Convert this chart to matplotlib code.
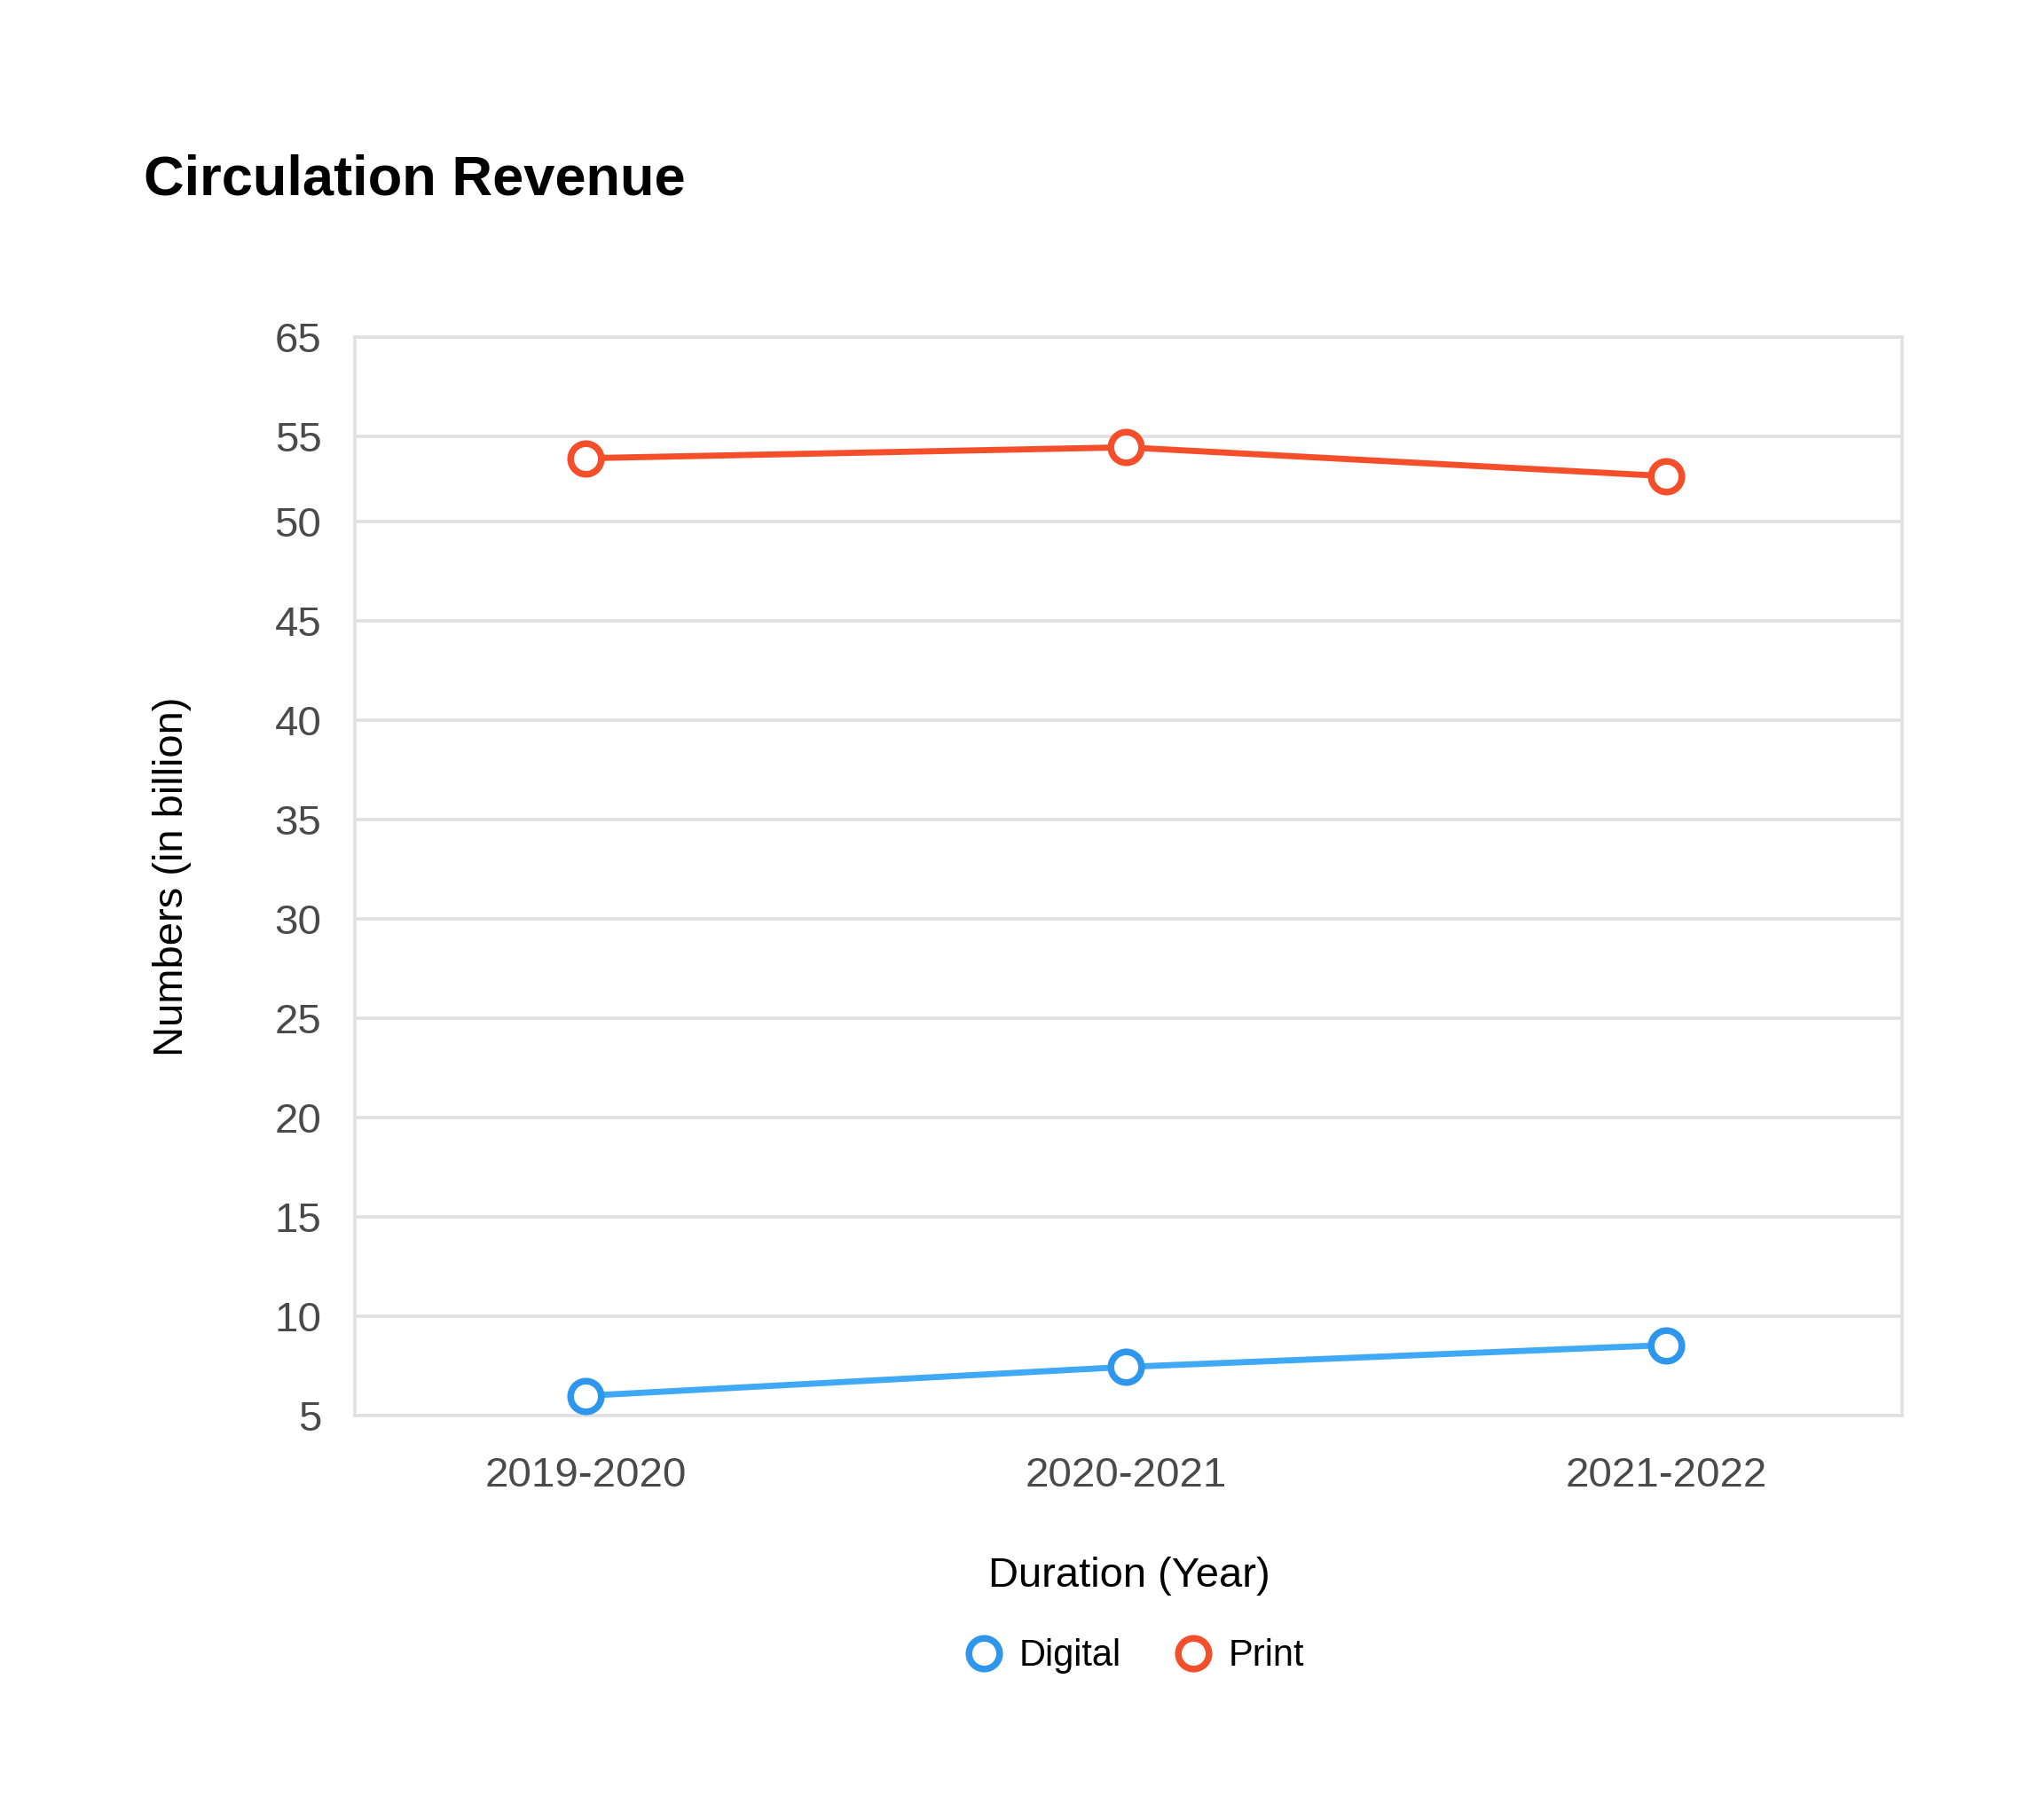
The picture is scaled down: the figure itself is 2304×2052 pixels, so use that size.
import matplotlib
matplotlib.use("Agg")
import matplotlib.pyplot as plt
from matplotlib.lines import Line2D

plt.rcParams['font.family'] = ['Liberation Sans', 'DejaVu Sans']

# data
years = ['2019-2020', '2020-2021', '2021-2022']
digital = [6.0, 7.45, 8.55]
print_rev = [53.2, 53.75, 52.3]

# the source chart has uneven y ticks: the "55" and "65" lines sit
# where ~54.3 and ~59.3 would be on the linear scale
ytick_vals = [5, 10, 15, 20, 25, 30, 35, 40, 45, 50, 54.3, 59.3]
ytick_txt = ['5', '10', '15', '20', '25', '30', '35', '40', '45', '50', '55', '65']

blue_line = '#3fa9f5'
blue_mark = '#2e96ec'
orange = '#f44e2b'
grid_c = '#e0e0e0'
tick_c = '#4a4a4a'

fig = plt.figure(figsize=(7.68, 6.84), dpi=300)
ax = fig.add_axes([0.1736, 0.2222, 0.7570, 0.5926])

x = list(range(len(years)))
ax.plot(x, digital, color=blue_line, lw=1.65, marker='o', ms=8.3, mew=1.8,
        mec=blue_mark, mfc='white', zorder=3, label='Digital')
ax.plot(x, print_rev, color=orange, lw=1.65, marker='o', ms=8.3, mew=1.8,
        mec=orange, mfc='white', zorder=3, label='Print')

ax.set_xlim(-0.4275, 2.437)
ax.set_ylim(5, 59.3)
ax.set_xticks(x)
ax.set_xticklabels(years)
ax.set_yticks(ytick_vals)
ax.set_yticklabels(ytick_txt)

ax.grid(axis='y', color=grid_c, lw=0.85)
ax.set_axisbelow(True)
for s in ax.spines.values():
    s.set_color(grid_c)
    s.set_linewidth(0.85)
ax.tick_params(axis='both', length=0, labelsize=11.4, labelcolor=tick_c)
ax.tick_params(axis='y', pad=9)
ax.tick_params(axis='x', pad=11)

fig.text(0.0703, 0.901, 'Circulation Revenue', fontsize=15.2,
         fontweight='bold', ha='left', va='center', color='black')
fig.text(0.0842, 0.5185, 'Numbers (in billion)', fontsize=11.3,
         rotation=90, ha='center', va='center', color='black')
fig.text(0.5523, 0.134, 'Duration (Year)', fontsize=11.3,
         ha='center', va='center', color='black')

handles = [Line2D([], [], ls='none', marker='o', ms=8.3, mew=1.8,
                  mec=blue_mark, mfc='white'),
           Line2D([], [], ls='none', marker='o', ms=8.3, mew=1.8,
                  mec=orange, mfc='white')]
fig.legend(handles, ['Digital', 'Print'], loc='center',
           bbox_to_anchor=(0.555, 0.0901), ncol=2, frameon=False,
           fontsize=10, handlelength=1.0, handletextpad=0.45,
           columnspacing=1.45, borderaxespad=0)

fig.savefig('out.png', dpi=300, facecolor='white')
